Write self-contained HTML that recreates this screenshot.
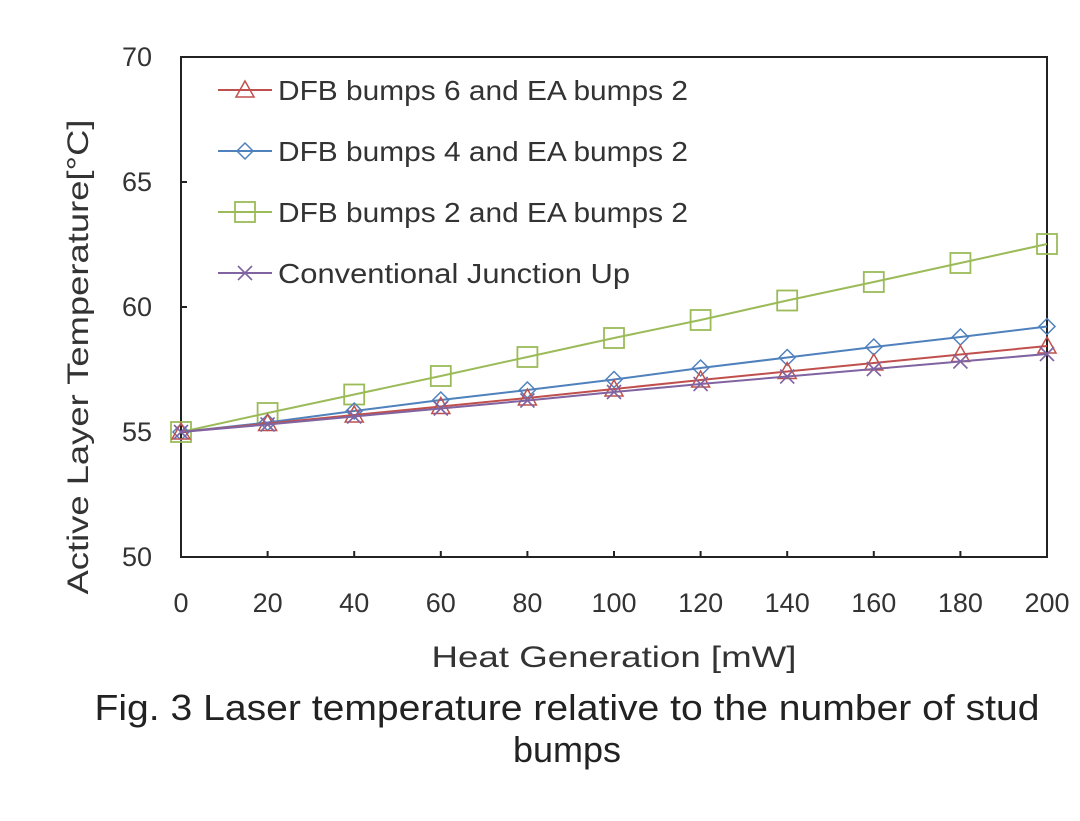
<!DOCTYPE html>
<html><head><meta charset="utf-8"><style>
body{margin:0;background:#fff;}
svg text{font-family:"Liberation Sans",Arial,sans-serif;}
</style></head><body>
<svg width="1080" height="816" viewBox="0 0 1080 816">
<g id="g"></g>
</svg>
<script>
const xCats=[0,20,40,60,80,100,120,140,160,180,200];
const yTicks=[50,55,60,65,70];
const sDfb6=[55,55.34,55.68,56.02,56.36,56.72,57.08,57.42,57.76,58.1,58.44];
const sDfb4=[55,55.38,55.84,56.28,56.68,57.1,57.56,57.98,58.4,58.8,59.22];
const sDfb2=[55,55.76,56.5,57.24,58.0,58.76,59.48,60.26,61.0,61.76,62.52];
const sConv=[55,55.3,55.62,55.94,56.26,56.6,56.92,57.22,57.52,57.82,58.12];
const names=["DFB bumps 6 and EA bumps 2","DFB bumps 4 and EA bumps 2","DFB bumps 2 and EA bumps 2","Conventional Junction Up"];
const nameLens=[410,410,410,352];
const NS="http://www.w3.org/2000/svg";
const g=document.getElementById('g');
const X0=181,X1=1047,Y0=557,Y1=57;
const xs=v=>X0+(v-0)/(200-0)*(X1-X0);
const ys=v=>Y0-(v-50)/(70-50)*(Y0-Y1);
function mk(t,a,p){const e=document.createElementNS(NS,t);for(const k in a)e.setAttribute(k,a[k]);(p||g).appendChild(e);return e;}
let e=mk('rect',{x:X0,y:Y1,width:X1-X0,height:Y0-Y1,fill:'none',stroke:'#222','stroke-width':2});

yTicks.forEach(v=>{mk('line',{x1:X0,x2:X0+6,y1:ys(v),y2:ys(v),stroke:'#222','stroke-width':2});
 const t=mk('text',{x:152,y:ys(v)+9,'font-size':27,'text-anchor':'end',fill:'#333'});t.textContent=v;
 });
xCats.forEach(v=>{mk('line',{x1:xs(v),x2:xs(v),y1:Y0,y2:Y0-6,stroke:'#222','stroke-width':2});
 const t=mk('text',{x:xs(v),y:612,'font-size':27,'text-anchor':'middle',fill:'#333'});t.textContent=v;
 });
let t=mk('text',{x:614,y:667,'font-size':30,'text-anchor':'middle',fill:'#333',textLength:365,lengthAdjust:'spacingAndGlyphs'});t.textContent='Heat Generation [mW]';

t=mk('text',{x:0,y:0,'font-size':30,'text-anchor':'middle',fill:'#333',transform:'translate(88,357) rotate(-90)',textLength:475,lengthAdjust:'spacingAndGlyphs'});t.textContent='Active Layer Temperature[°C]';

t=mk('text',{x:567,y:720,'font-size':36,'text-anchor':'middle',fill:'#222',textLength:945,lengthAdjust:'spacingAndGlyphs'});t.textContent='Fig. 3 Laser temperature relative to the number of stud';

t=mk('text',{x:567,y:762,'font-size':36,'text-anchor':'middle',fill:'#222'});t.textContent='bumps';

function marker(type,x,y,c,p){
 if(type==='tri')mk('polygon',{points:`${x},${y-9} ${x-9},${y+7} ${x+9},${y+7}`,fill:'none',stroke:c,'stroke-width':1.5},p);
 else if(type==='dia')mk('polygon',{points:`${x},${y-8} ${x+8},${y} ${x},${y+8} ${x-8},${y}`,fill:'none',stroke:c,'stroke-width':1.5},p);
 else if(type==='sq')mk('rect',{x:x-10,y:y-10,width:20,height:20,fill:'none',stroke:c,'stroke-width':1.8},p);
 else {mk('path',{d:`M${x-7},${y-7}L${x+7},${y+7}M${x+7},${y-7}L${x-7},${y+7}`,stroke:c,'stroke-width':1.6},p);}
}
const series=[[sDfb6,'#c0504d','tri'],[sDfb4,'#4f81bd','dia'],[sDfb2,'#9bbb59','sq'],[sConv,'#8064a2','x']];
const order=[2,1,0,3];
order.forEach(i=>{const [d,c,m]=series[i];
 const grp=mk('g',{});
 mk('polyline',{points:d.map((v,j)=>xs(xCats[j])+','+ys(v)).join(' '),fill:'none',stroke:c,'stroke-width':2},grp);
 d.forEach((v,j)=>marker(m,xs(xCats[j]),ys(v),c,grp));});
series.forEach(([d,c,m],i)=>{const y=90+i*61;
 const lg=mk('g',{});
 mk('line',{x1:218,x2:272,y1:y,y2:y,stroke:c,'stroke-width':2},lg);marker(m,245,y,c,lg);
 const tt=mk('text',{x:278,y:y+10,'font-size':28,fill:'#333',textLength:nameLens[i],lengthAdjust:'spacingAndGlyphs'},lg);tt.textContent=names[i];});
</script>
</body></html>
